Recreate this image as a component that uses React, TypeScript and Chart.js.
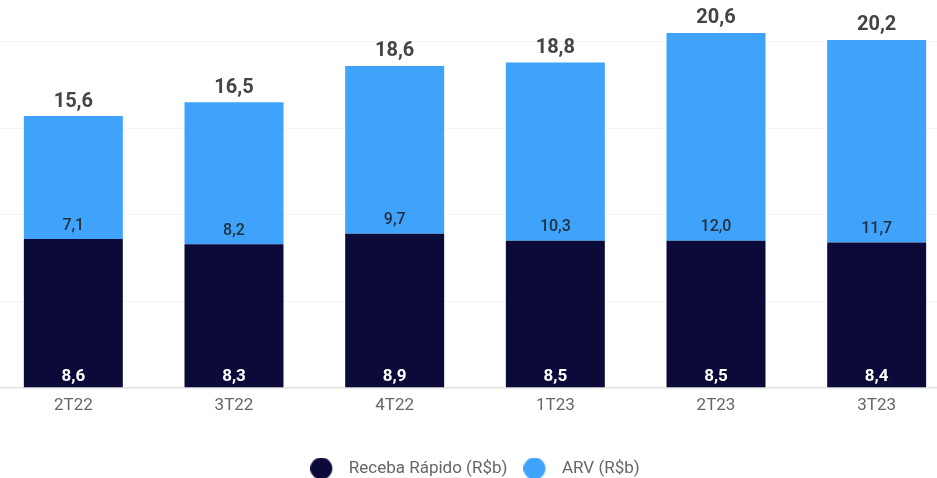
import React, { useEffect, useRef } from 'react';
import { Chart, registerables } from 'chart.js';

Chart.register(...registerables);

const categories = ['2T22', '3T22', '4T22', '1T23', '2T23', '3T23'];
const recebaRapido = [8.6, 8.3, 8.9, 8.5, 8.5, 8.4];
const arv = [7.1, 8.2, 9.7, 10.3, 12.0, 11.7];
const totals = [15.6, 16.5, 18.6, 18.8, 20.6, 20.2];
const seriesNames = ['Receba Rápido (R$b)', 'ARV (R$b)'];
const seriesColors = ['#0c0a38', '#3fa3fc'];

const fmt = (v: number) => v.toFixed(1).replace('.', ',');

function makeDot(color: string) {
  const c = document.createElement('canvas');
  c.width = 30;
  c.height = 22;
  const g = c.getContext('2d')!;
  g.fillStyle = color;
  g.beginPath();
  g.arc(11, 11, 11, 0, Math.PI * 2);
  g.fill();
  return c;
}

const labelPlugin = {
  id: 'barLabels',
  afterDatasetsDraw(chart: any) {
    const ctx = chart.ctx;
    const m0 = chart.getDatasetMeta(0);
    const m1 = chart.getDatasetMeta(1);
    ctx.save();
    ctx.textAlign = 'center';
    ctx.textBaseline = 'middle';
    m0.data.forEach((el: any, i: number) => {
      const { x, base } = el.getProps(['x', 'base'], true);
      ctx.font = 'bold 17px Roboto';
      ctx.fillStyle = '#ffffff';
      ctx.fillText(fmt(recebaRapido[i]), x, base - 10.5);
    });
    m1.data.forEach((el: any, i: number) => {
      const { x, y, base } = el.getProps(['x', 'y', 'base'], true);
      ctx.font = '500 16px Roboto';
      ctx.fillStyle = '#22303f';
      ctx.fillText(fmt(arv[i]), x, base - 13.5);
      ctx.font = 'bold 20px Roboto';
      ctx.fillStyle = '#444444';
      ctx.fillText(fmt(totals[i]), x, y - 14.5);
    });
    ctx.restore();
  },
};

export default function App() {
  const ref = useRef<HTMLCanvasElement>(null);

  useEffect(() => {
    if (!ref.current) return;
    const dots = seriesColors.map(makeDot);
    const chart = new Chart(ref.current, {
      type: 'bar',
      data: {
        labels: categories,
        datasets: [
          {
            label: seriesNames[0],
            data: recebaRapido,
            backgroundColor: seriesColors[0],
            stack: 's',
            categoryPercentage: 1,
            barPercentage: 0.616,
          },
          {
            label: seriesNames[1],
            data: arv,
            backgroundColor: seriesColors[1],
            stack: 's',
            categoryPercentage: 1,
            barPercentage: 0.616,
          },
        ],
      },
      options: {
        responsive: false,
        animation: false,
        layout: { padding: { top: 7, left: 0, right: 0, bottom: 0 } },
        scales: {
          x: {
            stacked: true,
            grid: { display: false, drawTicks: false },
            border: { display: false },
            ticks: { color: '#666666', font: { size: 17, family: 'Roboto' }, padding: 8 },
            afterFit: (scale: any) => {
              scale.height = 56;
            },
          },
          y: {
            stacked: true,
            min: 0,
            max: 22,
            ticks: { display: false, stepSize: 5 },
            border: { display: false },
            grid: {
              drawTicks: false,
              color: (c: any) =>
                c.tick.value === 0 ? '#e2e2e2' : c.tick.value % 5 === 0 ? '#f4f4f4' : 'rgba(0,0,0,0)',
              lineWidth: (c: any) => (c.tick.value === 0 ? 1.5 : 1),
            },
          },
        },
        plugins: {
          tooltip: { enabled: false },
          legend: {
            position: 'bottom',
            labels: {
              usePointStyle: true,
              pointStyleWidth: 30,
              padding: 16,
              color: '#666666',
              font: { size: 17, family: 'Roboto' },
              generateLabels: (ch: any) => {
                const items = (Chart.defaults.plugins.legend.labels as any).generateLabels(ch);
                items.forEach((it: any, i: number) => {
                  it.pointStyle = dots[i];
                });
                return items;
              },
            },
          },
        },
      },
      plugins: [labelPlugin],
    });
    return () => chart.destroy();
  }, []);

  return (
    <div
      style={{
        position: 'fixed',
        left: 0,
        top: 0,
        width: 937,
        height: 478,
        overflow: 'hidden',
        background: '#ffffff',
      }}
    >
      <div style={{ position: 'absolute', left: -7, top: 0, width: 964, height: 487 }}>
        <canvas ref={ref} width={964} height={487} style={{ display: 'block' }} />
      </div>
    </div>
  );
}
